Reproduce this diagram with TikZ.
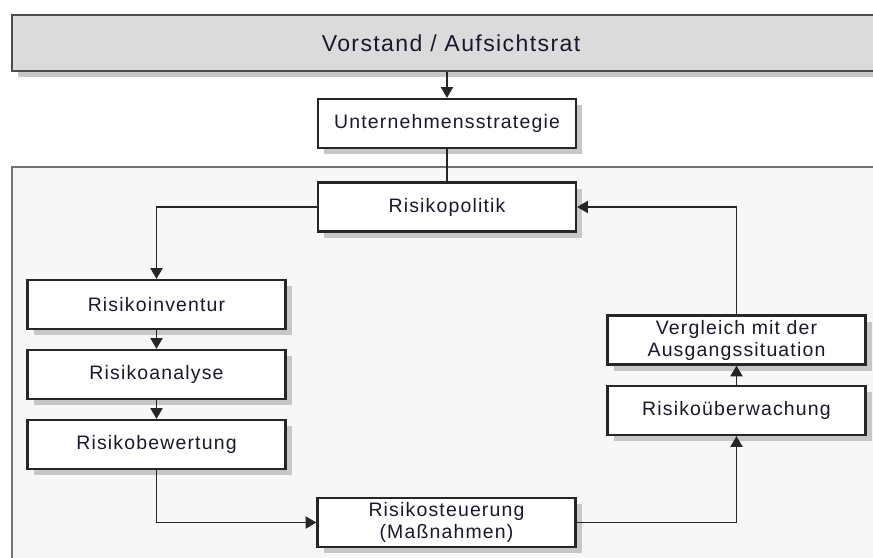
\documentclass[tikz,border=0pt]{standalone}
\usepackage{fontspec}
\setmainfont{Liberation Sans}[LetterSpace=6]
\usetikzlibrary{arrows.meta,shadows}
\definecolor{ink}{RGB}{25,25,45}
\begin{document}
\begin{tikzpicture}[x=0.75pt,y=-0.75pt]
  \tikzset{ box/.style={draw=black!85,line width=1.7pt,fill=white,text=ink,
      minimum width=193.5pt,minimum height=36.75pt,inner sep=0pt,align=center,
      font=\fontsize{14.6}{16.5}\selectfont,
      drop shadow={shadow xshift=4.5pt,shadow yshift=-4.5pt,fill=black!22,opacity=1}},
    board/.style={box,fill=black!14,draw=black!70,line width=2.2pt,
      minimum width=658.5pt,minimum height=42pt,font=\fontsize{17.3}{20}\selectfont},
    arr/.style={-{Triangle[length=8pt,width=9pt]},draw=black!85,line width=1.3pt},
    link/.style={draw=black!85,line width=1.3pt},
  }
  \useasboundingbox (0,0) rectangle (873,557);
  \clip (0,0) rectangle (873,557);
  \fill[white] (0,0) rectangle (873,557);

  % the board on top and the frame below it
  \node[board] (vor) at (451,43) {Vorstand / Aufsichtsrat};
  \draw[draw=black!55,line width=1.8pt,fill=black!3] (12,167) rectangle (900,600);

  \node[box] (strat) at (447,123.5) {Unternehmensstrategie};
  \node[box] (pol) at (447,207) {Risikopolitik};
  \node[box] (inv) at (156.5,304.5) {Risikoinventur};
  \node[box] (ana) at (156.5,374.5) {Risikoanalyse};
  \node[box] (bew) at (156.5,444.5) {Risikobewertung};
  \node[box] (steu) at (446.5,522.5) {Risikosteuerung\\(Maßnahmen)};
  \node[box] (ueb) at (736.5,410.5) {Risikoüberwachung};
  \node[box] (vgl) at (736.5,340) {Vergleich mit der\\Ausgangssituation};

  % the connection between the boxes
  \draw[arr] (strat.north |- vor.south) -- (strat.north);
  \draw[link] (strat) -- (pol);
  \draw[arr] (pol.west) -| (inv.north);
  \draw[arr] (inv) -- (ana);
  \draw[arr] (ana) -- (bew);
  \draw[arr] (bew.south) |- (steu.west);
  \draw[arr] (steu.east) -| (ueb.south);
  \draw[arr] (ueb) -- (vgl);
  \draw[arr] (vgl.north) |- (pol.east);
\end{tikzpicture}
\end{document}
